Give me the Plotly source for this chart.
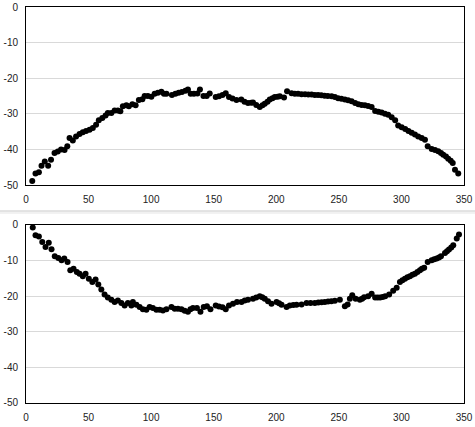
import plotly.graph_objects as go
from plotly.subplots import make_subplots

# Top series
top_x = [5, 7.6, 10.3, 12.4, 15, 17.7, 20, 22.8, 25.4, 28, 30.8, 33, 34.8, 37.4, 40, 42.8, 45.4, 48, 50.8, 53.4,
         56, 58.2, 61, 63.6, 65.4, 68.2, 70.8, 73.4, 75.4, 77.4, 80.2, 82.2, 85, 87.6, 90.2, 93, 94.8, 97.4, 100.2,
         102.8, 105.4, 108.2, 110.2, 112.2, 116.6, 119.4, 122, 124.6, 127.4, 129.4, 131.6, 134.2, 137, 139, 141.8,
         144.4, 146.8, 151.6, 154.2, 157, 159.6, 162.2, 165, 168.2, 172, 174.6, 177.4, 180, 181.4, 184, 186.8, 189,
         190.8, 193, 194.8, 197, 198.8, 201, 202.8, 206.2, 208.6, 212.2, 214.8, 217.4, 220.2, 223, 225.6, 228.2,
         230.8, 233.4, 236, 238.6, 241.2, 244.2, 246.8, 249.4, 252, 254.8, 257.4, 260.2, 263, 265.6, 268.2, 270.8,
         273.4, 276.2, 279, 281.6, 284.2, 286.8, 289.4, 292.2, 295, 297.4, 300.2, 303, 305.6, 308.2, 310.8, 313.4,
         316.2, 318.8, 321, 324.2, 326.8, 329.4, 331.6, 333.4, 335.6, 337.4, 339.4, 341, 342.8, 345.4]
top_y = [-48.9, -46.8, -46.4, -44.6, -43.4, -44.6, -42.9, -41, -40.6, -40, -40.2, -39.1, -36.8, -37.5, -36.4, -35.7,
         -35.2, -34.8, -34.5, -34, -33.1, -31.8, -31.2, -30.5, -29.8, -29.8, -29.1, -29.1, -29.3, -27.9, -27.6, -27.9,
         -27.3, -27.6, -26.1, -25.9, -25, -25, -25.2, -24.4, -24.1, -23.8, -24.4, -24.4, -24.7, -24.4, -24.1, -23.9,
         -23.5, -23.2, -24.4, -24.4, -24.3, -23.2, -25, -25, -24.3, -25.3, -25.1, -24.7, -24.2, -25.3, -25.7, -26.1,
         -26, -26.6, -27, -26.9, -26.8, -27.5, -28.1, -27.6, -27.2, -26.6, -26, -25.6, -25.3, -25.2, -25.1, -25.4,
         -23.7, -24.2, -24.4, -24.4, -24.5, -24.5, -24.6, -24.6, -24.7, -24.7, -24.8, -24.9, -25, -25.1, -25.3,
         -25.6, -25.8, -26, -26.2, -26.5, -27, -27.3, -27.5, -27.6, -27.8, -28.1, -29.2, -29.4, -29.6, -30, -30.3,
         -31, -31.8, -33.3, -33.8, -34.3, -34.8, -35.3, -35.8, -36.4, -36.8, -37.3, -39.1, -39.9, -40.2, -40.5,
         -41, -41.5, -42, -42.6, -43.2, -43.8, -45.7, -46.8]

# Bottom series
bot_x = [5.4, 7.6, 10.3, 13, 15.6, 18.2, 20.4, 23, 25.8, 28.4, 30.6, 33.2, 35.4, 38, 40.6, 42.8, 45.4, 47.6, 50.2,
         53, 55.6, 57.8, 60.2, 62.8, 65.4, 68.2, 70.8, 73.4, 76.2, 78.8, 81.4, 84.2, 85.4, 88.2, 90.8, 93.4, 96.2,
         98.8, 101.4, 104.2, 106.8, 109.4, 112.2, 116.2, 118.8, 121.4, 124.2, 126.8, 129.4, 131.4, 133.4, 136.6,
         139.4, 142, 144.6, 147.4, 151.6, 154.2, 157, 159.6, 162.2, 165.4, 168.6, 172.2, 174.8, 177.4, 181.4, 184,
         186.8, 188.8, 190.8, 193.4, 196.2, 200.2, 202.2, 204.2, 208.2, 210.8, 213.6, 216.2, 220.2, 224.2, 227.4,
         230.8, 233.6, 236.2, 238.8, 241.4, 244, 246.8, 250.8, 254.8, 257, 258.8, 260.7, 263.4, 266.8, 268.6, 270.2,
         273.4, 276.2, 279, 281, 283, 285, 287, 290.2, 293.4, 296.2, 298.8, 300.8, 302.8, 304.8, 306.8, 308.8, 310.8,
         312.8, 314.8, 316.4, 318.2, 321, 324.2, 326.2, 328.2, 330, 331.6, 334.8, 336.4, 338, 339.8, 341.4, 344.2, 346]
bot_y = [-0.7, -2.9, -3.2, -4.8, -6.2, -5, -6.8, -8.8, -9.3, -9.9, -9.4, -10.4, -12.7, -12.3, -13.2, -13.7, -14.4,
         -13.7, -15.1, -16, -15.3, -16.7, -18.1, -19.5, -20.4, -21, -21.6, -21.2, -21.9, -22.6, -21.9, -22.6, -21.6,
         -22.4, -23, -23.7, -23.8, -23, -23.3, -23.8, -23.8, -24, -23.7, -23, -23.5, -23.5, -23.7, -24.1, -24.4,
         -23.7, -23.3, -23.3, -24.4, -23, -22.8, -23.7, -22.6, -22.9, -23.1, -23.7, -22.6, -22.1, -21.6, -21.6,
         -21.2, -21, -20.7, -20.4, -20, -20.3, -20.7, -21.4, -22.1, -21.6, -22, -22.4, -23, -22.6, -22.5, -22.4,
         -22.3, -21.9, -21.9, -21.9, -21.8, -21.7, -21.6, -21.5, -21.4, -21.3, -21, -22.8, -22.3, -20.7, -19.7,
         -20.7, -21, -20.7, -20.3, -20, -19.3, -20.4, -20.4, -20.4, -20.2, -20, -19.5, -18.5, -17.6, -16, -15.5,
         -15.1, -14.7, -14.4, -14, -13.7, -13.2, -12.7, -12.3, -12, -10.4, -9.9, -9.6, -9.4, -9.1, -8.8, -7.9,
         -7.4, -6.9, -6.3, -5.7, -3.8, -2.7]

x_ticks = [0, 50, 100, 150, 200, 250, 300, 350]
y_ticks = [0, -10, -20, -30, -40, -50]
y_tick_labels = ["0", "-10", "-20", "-30", "-40", "-50"]

fig = make_subplots(rows=2, cols=1, vertical_spacing=0.1)
marker = dict(color="black", size=6)
fig.add_trace(go.Scatter(x=top_x, y=top_y, mode="markers", marker=marker, cliponaxis=False), row=1, col=1)
fig.add_trace(go.Scatter(x=bot_x, y=bot_y, mode="markers", marker=marker, cliponaxis=False), row=2, col=1)

tickfont = dict(family="Liberation Sans", size=10, color="#222")
xa = dict(range=[0, 350], tickvals=x_ticks, showgrid=False, zeroline=False, showline=True,
          linecolor="black", linewidth=1, mirror=True, ticks="", tickfont=tickfont, ticklabelstandoff=5,
          automargin=False)
ya = dict(range=[-50, 0], tickvals=y_ticks, ticktext=y_tick_labels, showgrid=True, gridcolor="#d9d9d9",
          gridwidth=1, zeroline=False, showline=True, linecolor="black", linewidth=1, mirror=True, ticks="",
          tickfont=tickfont, ticklabelstandoff=5, automargin=False)

fig.update_layout(
    width=475, height=427,
    margin=dict(l=26, r=11, t=7, b=24),
    paper_bgcolor="white", plot_bgcolor="white",
    showlegend=False,
    xaxis=dict(domain=[0, 1], **xa),
    xaxis2=dict(domain=[0, 1], **xa),
    yaxis=dict(domain=[0.5505, 1], **ya),
    yaxis2=dict(domain=[0, 0.4495], **ya),
    shapes=[
        dict(type="line", xref="paper", yref="paper", x0=-0.06, x1=1.03, y0=0.4848, y1=0.4848,
             line=dict(color="#c8c8c8", width=1)),
        dict(type="line", xref="paper", yref="paper", x0=-0.06, x1=1.03, y0=0.4798, y1=0.4798,
             line=dict(color="#e4e4e4", width=1)),
    ],
)

# remove the page's default body margin so the figure sits at the window's top-left corner
fig.write_html("out.html",
               config={"displayModeBar": False},
               post_script="document.body.style.margin='0';document.body.style.overflow='hidden';")
